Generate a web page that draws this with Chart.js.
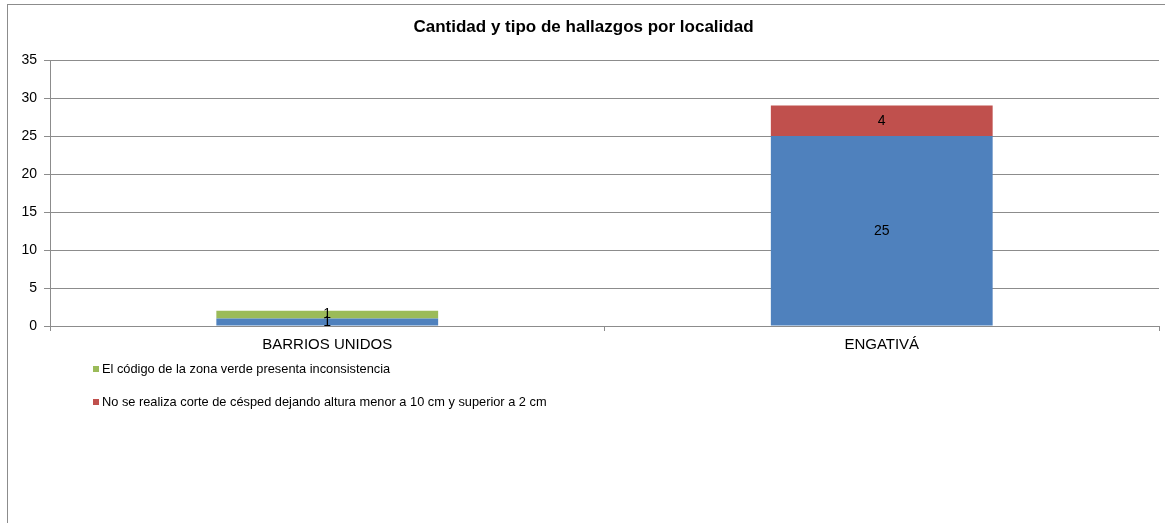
<!DOCTYPE html>
<html>
<head>
<meta charset="utf-8">
<script src="https://cdn.jsdelivr.net/npm/chart.js@4.4.0/dist/chart.umd.min.js"></script>
<style>
  html, body { margin: 0; padding: 0; background: #fff; }
  #frame { position: absolute; left: 7px; top: 4px; width: 1158px; height: 519px;
           border-left: 1px solid #8c8c8c; border-top: 1px solid #8c8c8c; }
  #wrap { position: absolute; left: 0; top: 0; width: 1158px; height: 519px; }
</style>
</head>
<body>
<div id="frame"><div id="wrap"><canvas id="chart"></canvas></div></div>
<script>
// Localidades y hallazgos
const localidades = ['BARRIOS UNIDOS', 'ENGATIVÁ'];
const sinTipo = [1, 25];          // serie azul (no aparece en la leyenda)
const codigoInconsistente = [1, 0];
const corteCesped = [0, 4];

const labelSinTipo = 'Hallazgo';
const labelCodigo = 'El código de la zona verde presenta inconsistencia';
const labelCorte = 'No se realiza corte de césped dejando altura menor a 10 cm y superior a 2 cm';

const FONT = 'Arial, "Liberation Sans", sans-serif';

// numbers inside the bars
const valueLabels = {
    id: 'valueLabels',
    afterDatasetsDraw(chart) {
        const ctx = chart.ctx;
        ctx.save();
        ctx.font = '14px ' + FONT;
        ctx.fillStyle = '#000';
        ctx.textAlign = 'center';
        ctx.textBaseline = 'middle';
        chart.data.datasets.forEach((ds, i) => {
            const meta = chart.getDatasetMeta(i);
            meta.data.forEach((bar, j) => {
                if (!ds.data[j]) return;
                const p = bar.getProps(['x', 'y', 'base'], true);
                ctx.fillText(ds.data[j], p.x, (p.y + p.base) / 2);
            });
        });
        ctx.restore();
    }
};

// vertical legend under the axis, without the blue series
const sideLegend = {
    id: 'sideLegend',
    afterDraw(chart) {
        const ctx = chart.ctx;
        const items = chart.data.datasets.filter(ds => ds.showInLegend);
        ctx.save();
        ctx.font = '12.8px ' + FONT;
        ctx.textBaseline = 'middle';
        let y = 364;
        items.forEach(ds => {
            ctx.fillStyle = ds.backgroundColor;
            ctx.fillRect(85, y - 3, 6, 6);
            ctx.fillStyle = '#000';
            ctx.fillText(ds.label, 94, y);
            y += 33;
        });
        ctx.restore();
    }
};

new Chart(document.getElementById('chart'), {
    type: 'bar',
    data: {
        labels: localidades,
        datasets: [
            { label: labelSinTipo, data: sinTipo, backgroundColor: '#4F81BD', showInLegend: false },
            { label: labelCodigo, data: codigoInconsistente, backgroundColor: '#9BBB59', showInLegend: true },
            { label: labelCorte, data: corteCesped, backgroundColor: '#C0504D', showInLegend: true }
        ]
    },
    options: {
        responsive: true,
        maintainAspectRatio: false,
        animation: false,
        categoryPercentage: 0.4,
        barPercentage: 1,
        layout: { padding: { left: 0, right: 7, top: 0, bottom: 165 } },
        plugins: {
            legend: { display: false },
            tooltip: { enabled: false },
            title: {
                display: true,
                text: 'Cantidad y tipo de hallazgos por localidad',
                color: '#000',
                font: { family: FONT, size: 17, weight: 'bold' },
                padding: { top: 12, bottom: 22.6 }
            }
        },
        scales: {
            x: {
                stacked: true,
                grid: { display: true, drawOnChartArea: false, drawTicks: true, tickLength: 5, color: '#8c8c8c', offset: true },
                border: { color: '#8c8c8c' },
                ticks: { color: '#000', font: { family: FONT, size: 15 }, padding: 5 }
            },
            y: {
                stacked: true,
                min: 0,
                max: 35,
                grid: { color: '#8c8c8c', tickLength: 6 },
                border: { color: '#8c8c8c' },
                ticks: { stepSize: 5, color: '#000', font: { family: FONT, size: 14 }, padding: 7 },
                afterFit(scale) { scale.width = 42; }
            }
        }
    },
    plugins: [valueLabels, sideLegend]
});
</script>
</body>
</html>
